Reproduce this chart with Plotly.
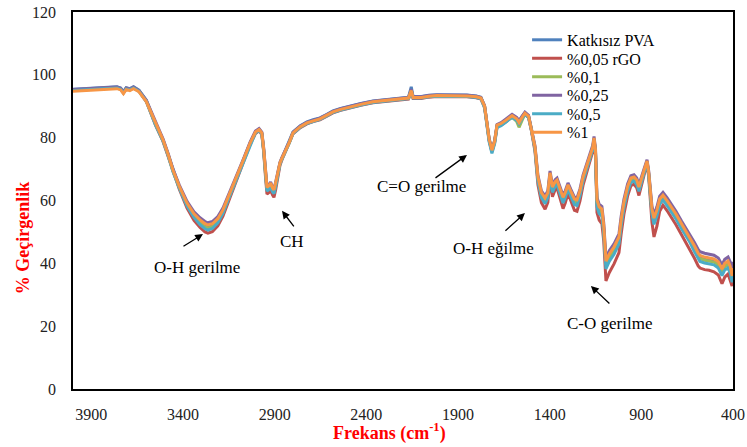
import plotly.graph_objects as go

wavenumber = [4000, 3950, 3900, 3850, 3800, 3760, 3740, 3725, 3710, 3690, 3670, 3640, 3600,
              3580, 3550, 3509, 3480, 3455, 3420,
              3378, 3340, 3307, 3280, 3264, 3240, 3210, 3182, 3150,
              3106, 3070, 3034, 3005, 2985, 2970,
              2960, 2950, 2942, 2930, 2922, 2912, 2904, 2895, 2880,
              2871, 2860, 2843, 2820, 2800, 2760, 2724, 2690, 2653, 2620, 2582, 2540, 2489, 2430,
              2364, 2300, 2255, 2200, 2170, 2155, 2145, 2100, 2060, 2015, 1960, 1900, 1851, 1800, 1775,
              1755, 1742, 1730, 1715, 1700, 1687, 1665, 1640, 1605, 1580, 1567, 1550, 1535, 1515, 1500,
              1480, 1464, 1445, 1425, 1410, 1398, 1385, 1370, 1360, 1345, 1327, 1315, 1300, 1285, 1265,
              1251, 1235, 1218, 1200, 1180, 1165, 1158,
              1150, 1142, 1130, 1115, 1105, 1093, 1075, 1049, 1022, 1010, 995, 975, 957, 940, 925, 913,
              895, 880, 869, 860, 848, 842, 831, 815, 800, 782, 760, 735, 711, 680, 660, 635, 610, 590,
              580, 555, 530, 504, 480, 460, 445, 427, 415, 405, 400]

pct_1 = [94.8, 95.0, 95.2, 95.3, 95.5, 95.6, 95.2, 94.0, 95.3, 95.0, 95.6, 94.6, 91.5,
         88.8, 84.5, 79.3, 74.5, 69.7, 64.5,
         59.2, 55.8, 53.8, 52.6, 52.2, 52.6, 54.2, 57.0, 61.5,
         67.5, 73.0, 78.3, 81.8, 82.6, 81.5,
         76.5, 69.0, 64.2, 64.8, 65.6, 64.0, 63.4, 65.5, 69.5,
         72.0, 73.5, 75.5, 78.5, 81.5, 83.5, 84.7, 85.4, 86.0, 87.0, 88.2, 89.0, 89.8, 90.6,
         91.4, 91.8, 92.0, 92.3, 92.6, 95.0, 92.8, 92.8, 93.2, 93.4, 93.4, 93.5, 93.3, 93.0, 92.6,
         90.0, 84.5, 79.5, 76.0, 79.0, 84.0, 84.5, 85.5, 87.0, 86.0, 84.8, 86.5, 87.8, 86.8, 83.0,
         77.0, 67.5, 62.5, 60.8, 62.5, 68.8, 64.3, 66.0, 66.5, 64.0, 61.0, 62.5, 65.0, 63.0, 60.5,
         60.2, 63.0, 67.5, 70.5, 73.8, 77.0, 79.9,
         76.0, 60.2, 58.0, 57.3, 52.0, 40.7, 43.0, 45.2, 48.4, 54.0, 59.5, 64.5, 67.2, 67.5, 66.5, 64.3,
         68.0, 71.0, 72.6, 69.0, 60.0, 57.3, 54.4, 57.0, 60.5, 61.7, 60.0, 58.0, 55.7, 52.5, 50.5, 48.4, 45.5, 43.2,
         42.5, 42.0, 41.8, 41.4, 40.5, 38.2, 40.0, 40.7, 39.0, 36.0, 38.5]

pva = [95.4, 95.6, 95.8, 95.9, 96.1, 96.2, 95.8, 94.6, 95.9, 95.6, 96.2, 95.1, 91.9,
       88.8, 84.5, 79.3, 74.4, 69.6, 64.3,
       58.8, 55.3, 53.2, 52.0, 51.6, 52.0, 53.7, 56.6, 61.2,
       67.4, 73.0, 78.3, 81.8, 82.7, 81.5,
       76.2, 68.6, 63.7, 64.3, 65.1, 63.5, 62.9, 65.0, 69.1,
       71.8, 73.5, 75.7, 78.8, 81.8, 83.8, 85.0, 85.7, 86.3, 87.3, 88.5, 89.3, 90.1, 90.9,
       91.7, 92.1, 92.3, 92.6, 92.9, 96.2, 93.1, 93.1, 93.5, 93.7, 93.7, 93.8, 93.6, 93.3, 92.9,
       90.0, 84.3, 79.2, 75.7, 78.7, 83.7, 84.3, 85.4, 87.1, 86.1, 85.2, 86.8, 88.0, 86.9, 82.9,
       76.6, 66.9, 61.8, 60.0, 61.8, 68.3, 63.6, 65.4, 65.9, 63.3, 60.2, 61.8, 64.4, 62.3, 59.7,
       59.4, 62.3, 66.9, 70.0, 73.4, 76.7, 79.6,
       75.5, 59.4, 57.2, 56.4, 51.1, 39.9, 42.2, 44.4, 47.6, 53.3, 58.9, 64.0, 66.8, 67.1, 66.1, 63.9,
       67.7, 70.8, 72.4, 68.7, 59.5, 56.7, 53.7, 56.3, 59.9, 61.1, 59.4, 57.4, 55.1, 51.9, 49.9, 47.8, 44.9, 42.6,
       41.9, 41.4, 41.2, 40.8, 39.9, 37.5, 39.3, 40.0, 38.3, 35.3, 37.8]

pct_005 = [95.1, 95.3, 95.5, 95.6, 95.8, 95.9, 95.5, 94.3, 95.6, 95.3, 95.9, 94.8, 91.5,
           88.3, 84.0, 78.8, 73.9, 69.0, 63.6,
           57.6, 53.7, 51.4, 50.0, 49.6, 50.1, 51.9, 55.0, 59.9,
           66.7, 72.4, 77.8, 81.3, 82.2, 81.0,
           75.5, 67.5, 62.0, 62.6, 63.4, 61.8, 61.0, 63.3, 67.8,
           71.2, 73.0, 75.2, 78.2, 81.2, 83.2, 84.4, 85.1, 85.7, 86.7, 87.9, 88.7, 89.5, 90.3,
           91.1, 91.5, 91.7, 92.0, 92.3, 94.6, 92.5, 92.5, 92.9, 93.1, 93.1, 93.2, 93.0, 92.7, 92.3,
           89.6, 84.0, 79.0, 75.5, 78.5, 83.5, 84.0, 85.0, 86.6, 85.6, 84.6, 86.2, 87.5, 86.4, 82.4,
           75.6, 65.0, 59.3, 57.2, 59.4, 66.8, 61.2, 63.4, 64.0, 61.0, 57.4, 59.2, 62.3, 60.0, 56.9,
           56.6, 59.8, 64.8, 68.3, 72.0, 75.6, 78.8,
           74.2, 56.2, 53.8, 52.6, 47.0, 34.4, 37.0, 39.8, 43.4, 49.4, 55.6, 61.4, 64.7, 65.2, 64.0, 61.6,
           66.2, 69.9, 71.8, 67.6, 56.8, 53.0, 48.4, 51.8, 56.6, 58.5, 56.8, 54.7, 52.3, 49.0, 46.9, 44.7, 41.6, 39.2,
           38.5, 38.0, 37.8, 37.3, 36.3, 33.5, 35.6, 36.6, 34.6, 32.8, 34.5]

pct_01 = [95.2, 95.4, 95.6, 95.7, 95.9, 96.0, 95.6, 94.4, 95.7, 95.4, 96.0, 94.9, 91.7,
          88.6, 84.3, 79.1, 74.3, 69.4, 64.1,
          58.6, 55.0, 52.9, 51.6, 51.2, 51.7, 53.4, 56.3, 60.9,
          67.2, 72.8, 78.1, 81.6, 82.5, 81.3,
          76.1, 68.5, 63.6, 64.2, 65.0, 63.4, 62.8, 64.9, 69.0,
          71.8, 73.4, 75.5, 78.5, 81.5, 83.5, 84.7, 85.4, 86.0, 87.0, 88.2, 89.0, 89.8, 90.6,
          91.4, 91.8, 92.0, 92.3, 92.6, 95.2, 92.8, 92.8, 93.2, 93.4, 93.4, 93.5, 93.3, 93.0, 92.6,
          90.0, 84.5, 79.5, 76.0, 79.0, 84.0, 84.4, 85.3, 86.5, 85.2, 83.3, 85.6, 87.6, 86.7, 82.9,
          76.6, 66.8, 61.6, 59.8, 61.6, 68.1, 63.4, 65.2, 65.7, 63.1, 60.0, 61.6, 64.2, 62.1, 59.5,
          59.2, 62.1, 66.7, 69.8, 73.2, 76.5, 79.5,
          75.4, 59.0, 56.8, 56.0, 50.6, 39.5, 41.8, 44.0, 47.2, 52.9, 58.5, 63.6, 66.4, 66.8, 65.8, 63.6,
          67.4, 70.6, 72.3, 68.5, 59.3, 56.4, 53.3, 56.0, 59.6, 60.8, 59.1, 57.1, 54.8, 51.6, 49.6, 47.4, 44.5, 42.2,
          41.5, 41.0, 40.8, 40.4, 39.5, 37.2, 39.0, 39.7, 38.0, 35.0, 37.4]

pct_025 = [95.3, 95.5, 95.7, 95.8, 96.0, 96.1, 95.7, 94.5, 95.8, 95.5, 96.1, 95.0, 91.9,
           89.1, 84.8, 79.6, 74.8, 70.0, 64.9,
           59.7, 56.4, 54.5, 53.3, 52.9, 53.3, 54.9, 57.6, 62.0,
           67.9, 73.3, 78.6, 82.1, 82.9, 81.8,
           76.8, 69.3, 64.5, 65.1, 65.9, 64.3, 63.7, 65.8, 69.8,
           72.2, 73.7, 75.7, 78.7, 81.7, 83.7, 84.9, 85.6, 86.2, 87.2, 88.4, 89.2, 90.0, 90.8,
           91.6, 92.0, 92.2, 92.5, 92.8, 95.4, 93.0, 93.0, 93.4, 93.6, 93.6, 93.7, 93.5, 93.2, 92.8,
           90.2, 84.7, 79.7, 76.2, 79.2, 84.2, 84.8, 85.9, 87.4, 86.5, 85.4, 86.9, 88.1, 87.1, 83.3,
           77.4, 68.0, 63.1, 61.4, 63.1, 69.4, 64.9, 66.6, 67.1, 64.6, 61.6, 63.1, 65.6, 63.6, 61.1,
           60.8, 63.6, 68.1, 71.1, 74.4, 77.6, 80.4,
           76.6, 61.0, 58.8, 58.1, 52.9, 41.7, 44.0, 46.2, 49.4, 55.0, 60.4, 65.3, 67.9, 68.2, 67.2, 65.0,
           68.6, 71.5, 73.0, 69.5, 60.7, 58.1, 55.4, 58.0, 61.4, 62.6, 60.9, 58.9, 56.6, 53.4, 51.5, 49.4, 46.6, 44.4,
           43.7, 43.2, 43.0, 42.6, 41.7, 39.5, 41.3, 42.0, 40.4, 38.5, 40.5]

pct_05 = [95.0, 95.2, 95.4, 95.5, 95.7, 95.8, 95.4, 94.2, 95.5, 95.2, 95.8, 94.7, 91.5,
          88.4, 84.1, 78.9, 74.1, 69.2, 63.9,
          58.2, 54.6, 52.3, 51.0, 50.6, 51.1, 52.9, 55.9, 60.7,
          67.0, 72.6, 77.9, 81.5, 82.3, 81.1,
          75.8, 68.0, 63.0, 63.6, 64.4, 62.8, 62.2, 64.3, 68.6,
          71.6, 73.2, 75.3, 78.3, 81.3, 83.3, 84.5, 85.2, 85.8, 86.8, 88.0, 88.8, 89.6, 90.4,
          91.2, 91.6, 91.8, 92.1, 92.4, 94.8, 92.6, 92.6, 93.0, 93.2, 93.2, 93.3, 93.1, 92.8, 92.4,
          89.5, 83.8, 78.6, 75.0, 78.1, 83.2, 83.8, 84.9, 86.5, 85.5, 84.4, 86.1, 87.4, 86.4, 82.5,
          76.2, 66.1, 60.9, 59.0, 60.9, 67.8, 62.6, 64.6, 65.1, 62.4, 59.2, 60.9, 63.7, 61.4, 58.7,
          58.4, 61.5, 66.2, 69.4, 72.9, 76.3, 79.3,
          75.0, 58.0, 55.8, 55.0, 49.6, 38.2, 40.6, 42.9, 46.2, 52.0, 57.7, 62.9, 65.8, 66.2, 65.1, 62.9,
          67.0, 70.4, 72.1, 68.2, 58.7, 55.6, 52.4, 55.1, 58.8, 60.2, 58.4, 56.4, 54.1, 50.9, 48.9, 46.7, 43.7, 41.4,
          40.6, 40.1, 39.9, 39.5, 38.5, 36.1, 37.9, 38.6, 36.8, 34.0, 36.5]

series_names = ["Katkısız PVA", "%0,05 rGO", "%0,1", "%0,25", "%0,5", "%1"]
series_values = [pva, pct_005, pct_01, pct_025, pct_05, pct_1]
series_colors = ["#4F81BD", "#C0504D", "#9BBB59", "#8064A2", "#4BACC6", "#F79646"]

x_ticks = [3900, 3400, 2900, 2400, 1900, 1400, 900, 400]
y_ticks = [0, 20, 40, 60, 80, 100, 120]

SERIF = "Liberation Serif, Times New Roman, serif"

legend_ids = ["legend", "legend2", "legend3", "legend4", "legend5", "legend6"]
legend_y = [0.926, 0.877, 0.828, 0.779, 0.730, 0.681]

fig = go.Figure()
for name, vals, col, lid in zip(series_names, series_values, series_colors, legend_ids):
    fig.add_trace(go.Scatter(x=wavenumber, y=vals, mode="lines", name=name, legend=lid,
                             line=dict(color=col, width=3)))

# annotation labels (text) and arrows: (text, text_x, text_y, head_x, head_y, ax, ay)
labels = [
    ("O-H gerilme", 3324, 38.8, 3291, 49.3, -21, 13),
    ("CH", 2805, 46.8, 2860, 56.7, 13, 17),
    ("C=O gerilme", 2101, 64.6, 1851, 74.5, -33, 24),
    ("O-H eğilme", 1709, 44.6, 1535, 56.0, -21, 19),
    ("C-O gerilme", 1071, 21.0, 1175, 32.8, 20, 19),
]
for txt, tx, ty, hx, hy, ax, ay in labels:
    fig.add_annotation(x=tx, y=ty, text=txt, showarrow=False,
                       font=dict(family=SERIF, size=17, color="black"))
    fig.add_annotation(x=hx, y=hy, ax=ax, ay=ay, text="", showarrow=True,
                       arrowhead=2, arrowsize=1.2, arrowwidth=1.3, arrowcolor="black")

fig.add_annotation(xref="paper", yref="paper", x=-0.0758, y=0.40, text="<b>% Geçirgenlik</b>",
                   textangle=-90, showarrow=False, xanchor="center", yanchor="middle",
                   font=dict(family=SERIF, size=18, color="red"))
fig.add_annotation(xref="paper", yref="paper", x=0.48, y=-0.114, text="<b>Frekans (cm<sup>-1</sup>)</b>",
                   showarrow=False, xanchor="center", yanchor="middle",
                   font=dict(family=SERIF, size=18, color="red"))

legend_common = dict(x=0.688, xanchor="left", yanchor="middle",
                     font=dict(family=SERIF, size=16, color="black"),
                     bgcolor="rgba(0,0,0,0)", itemwidth=30, borderwidth=0)
legend_layout = {lid: dict(y=ly, **legend_common) for lid, ly in zip(legend_ids, legend_y)}

fig.update_layout(
    width=747, height=447,
    margin=dict(l=73, r=14, t=12, b=58, autoexpand=False),
    paper_bgcolor="white", plot_bgcolor="white",
    showlegend=True,
    xaxis=dict(range=[4000, 400], tickvals=x_ticks, ticktext=[str(v) for v in x_ticks],
               showgrid=False, zeroline=False, showline=True, mirror=True, automargin=False,
               linecolor="black", linewidth=1.5, ticks="", ticklabelstandoff=10,
               ticklabeloverflow="allow",
               tickfont=dict(family=SERIF, size=16, color="#222")),
    yaxis=dict(range=[0, 120], tickvals=y_ticks, showgrid=False, zeroline=False, automargin=False,
               showline=True, mirror=True, linecolor="black", linewidth=1.5, ticks="",
               ticklabelstandoff=12, ticklabeloverflow="allow",
               tickfont=dict(family=SERIF, size=16, color="#222")),
    **legend_layout,
)

fig.write_html("out.html", config={"displayModeBar": False},
               post_script="document.body.style.margin='0';")
